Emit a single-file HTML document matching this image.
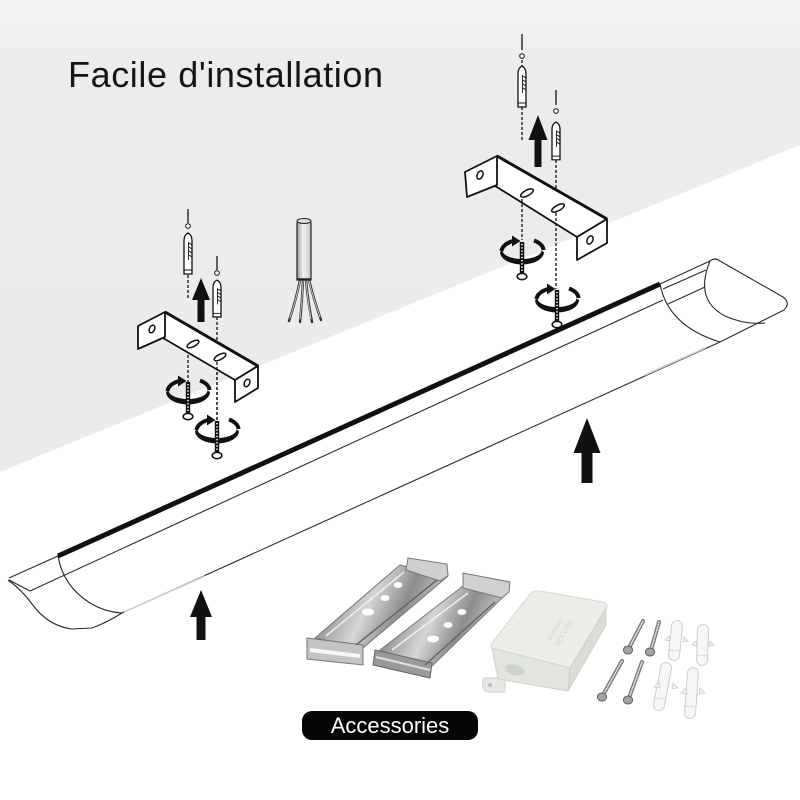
<!DOCTYPE html>
<html><head><meta charset="utf-8"><style>
html,body{margin:0;padding:0;background:#fff;}
svg{display:block;}
</style></head><body>
<svg width="800" height="800" viewBox="0 0 800 800" xmlns="http://www.w3.org/2000/svg">
<defs>
  <linearGradient id="wall" x1="0" y1="0" x2="0" y2="1">
    <stop offset="0" stop-color="#f3f3f3"/>
    <stop offset="0.15" stop-color="#ececec"/>
    <stop offset="1" stop-color="#ebebeb"/>
  </linearGradient>
  <linearGradient id="metal" x1="0" y1="0" x2="1" y2="0.3">
    <stop offset="0" stop-color="#e2e2e2"/>
    <stop offset="0.25" stop-color="#9a9a9a"/>
    <stop offset="0.5" stop-color="#d6d6d6"/>
    <stop offset="0.75" stop-color="#8c8c8c"/>
    <stop offset="1" stop-color="#cacaca"/>
  </linearGradient>
  <linearGradient id="cable" x1="0" y1="0" x2="1" y2="0">
    <stop offset="0" stop-color="#9a9a9a"/>
    <stop offset="0.45" stop-color="#f4f4f4"/>
    <stop offset="1" stop-color="#c4c4c4"/>
  </linearGradient>
  <g id="rot">
    <path d="M-22,-1 A22,12.5 0 0 0 22,-1 L19.5,-2.5 A19.5,8.5 0 0 1 -19.5,-2.5 Z" fill="#111"/>
    <path d="M-20.5,-2 A21,12 0 0 1 -9,-12" fill="none" stroke="#111" stroke-width="4"/>
    <polygon points="-10,-17.5 -1.5,-12 -10,-6.5" fill="#111"/>
    <path d="M12,-12.5 A21,12 0 0 1 21.5,-3" fill="none" stroke="#111" stroke-width="4"/>
    <rect x="-2.2" y="-11" width="4.4" height="32" fill="#111"/>
    <line x1="0" y1="-9" x2="0" y2="20" stroke="#fff" stroke-width="1.6" stroke-dasharray="1.3 1.9"/>
    <ellipse cx="0" cy="23.5" rx="4.8" ry="3.2" fill="#fff" stroke="#111" stroke-width="1.6"/>
  </g>
  <g id="anchor">
    <path d="M-4,40 L-4,7 Q-4,1 0,-1 Q4,1 4,7 L4,40 Z" fill="#fff" stroke="#111" stroke-width="1.3"/>
    <line x1="-4" y1="36" x2="4" y2="36" stroke="#111" stroke-width="1"/>
    <path d="M1,9 L4,11 M1,13 L4,15 M1,17 L4,19 M1,21 L4,23" stroke="#111" stroke-width="1"/>
    <line x1="0.5" y1="8" x2="0.5" y2="26" stroke="#111" stroke-width="0.9"/>
  </g>
</defs>

<rect width="800" height="800" fill="#fff"/>
<polygon points="0,0 800,0 800,145 0,472" fill="url(#wall)"/>

<text x="68" y="87" font-family="Liberation Sans, sans-serif" font-size="36" letter-spacing="0.6" fill="#151515">Facile d'installation</text>

<!-- Lamp -->
<g fill="none" stroke="#2a2a2a" stroke-width="1.1" stroke-linejoin="round">
  <line x1="9" y1="578" x2="58" y2="556"/>
  <line x1="9" y1="580" x2="30" y2="591"/>
  <path d="M8,580 Q22,590 32,604 Q48,626 72,629 L92,628 Q106,623 122,613"/>
  <path d="M58,556 Q63,586 90,603 Q105,612 122,613"/>
  <line x1="30" y1="591" x2="663" y2="300"/>
  <line x1="122" y1="613" x2="720" y2="342"/>
  <line x1="660" y1="284" x2="710" y2="261"/>
  <line x1="663" y1="289" x2="706" y2="270"/>
  <line x1="668" y1="304" x2="705" y2="287"/>
  <path d="M660,284 Q668,326 720,342"/>
  <path d="M710,261 Q694,300 725,316 Q745,325 765,323"/>
  <path d="M710,261 Q715,257 720,261 L783,297 Q791,303 784,310 L720,342"/>
</g>
<line x1="124" y1="612" x2="205" y2="576" stroke="#cfcfcf" stroke-width="1.6"/>
<line x1="645" y1="375" x2="705" y2="348" stroke="#d0d0d0" stroke-width="1.6"/>
<line x1="58" y1="556" x2="660" y2="284" stroke="#111" stroke-width="5"/>

<!-- Left bracket set -->
<g stroke="#111" stroke-width="1.3" fill="none">
  <line x1="188" y1="209" x2="188" y2="223"/>
  <line x1="217" y1="256" x2="217" y2="270"/>
  <line x1="188" y1="270" x2="188" y2="300" stroke-dasharray="3 2"/>
  <line x1="217" y1="317" x2="217" y2="430" stroke-dasharray="3 2"/>
  <line x1="188" y1="340" x2="188" y2="384" stroke-dasharray="3 2"/>
</g>
<circle cx="188" cy="226" r="2.3" fill="#fff" stroke="#111" stroke-width="1"/>
<circle cx="217" cy="273" r="2.3" fill="#fff" stroke="#111" stroke-width="1"/>
<use href="#anchor" x="188" y="234"/>
<g transform="translate(217,281) scale(1,0.9)"><use href="#anchor"/></g>
<polygon points="201,278 210,300 204.5,300 204.5,322 197.5,322 197.5,300 192,300" fill="#111"/>
<g stroke="#111" stroke-width="1.8" stroke-linejoin="round" fill="#fff">
  <polygon points="165,312 258,366 235,380 163,338"/>
  <polygon points="138,326 165,312 165,337 138,349"/>
  <polygon points="235,380 258,366 258,388 235,402"/>
</g>
<line x1="165" y1="312" x2="258" y2="366" stroke="#111" stroke-width="3"/>
<ellipse cx="152" cy="329" rx="2.6" ry="4" transform="rotate(25 152 329)" fill="#fff" stroke="#111" stroke-width="1.5"/>
<ellipse cx="247" cy="383" rx="2.6" ry="4" transform="rotate(25 247 383)" fill="#fff" stroke="#111" stroke-width="1.5"/>
<ellipse cx="193" cy="344" rx="6.5" ry="2.6" transform="rotate(-28 193 344)" fill="#fff" stroke="#111" stroke-width="1.5"/>
<ellipse cx="220" cy="357" rx="6.5" ry="2.6" transform="rotate(-28 220 357)" fill="#fff" stroke="#111" stroke-width="1.5"/>
<line x1="217" y1="362" x2="217" y2="425" stroke="#111" stroke-width="1.3" stroke-dasharray="3 2"/>
<use href="#rot" x="188" y="393"/>
<use href="#rot" x="217" y="432"/>

<!-- cable -->
<path d="M297,280 L297,223 Q304,215 311,223 L311,280 Z" fill="url(#cable)" stroke="#222" stroke-width="1.2"/>
<ellipse cx="304" cy="221" rx="7" ry="2.5" fill="#ddd" stroke="#222" stroke-width="1"/>
<g fill="none" stroke-linecap="round">
  <g stroke="#333" stroke-width="2.4">
    <path d="M300,280 Q296,300 289,321"/>
    <path d="M303,280 Q302,302 300,322"/>
    <path d="M306,280 Q308,302 312,322"/>
    <path d="M309,280 Q314,300 321,320"/>
  </g>
  <g stroke="#ddd" stroke-width="0.8">
    <path d="M300,281 Q296,300 290,318"/>
    <path d="M303,281 Q302,302 300,319"/>
    <path d="M306,281 Q308,302 311,319"/>
    <path d="M309,281 Q314,300 320,317"/>
  </g>
</g>
<line x1="297" y1="279" x2="311" y2="279" stroke="#222" stroke-width="1.5"/>

<!-- Right bracket set -->
<g stroke="#111" stroke-width="1.3" fill="none">
  <line x1="522" y1="34" x2="522" y2="50"/>
  <line x1="556" y1="90" x2="556" y2="105"/>
  <line x1="522" y1="60" x2="522" y2="66" stroke-dasharray="3 2"/>
  <line x1="522" y1="107" x2="522" y2="142" stroke-dasharray="3 2"/>
  <line x1="556" y1="160" x2="556" y2="190" stroke-dasharray="3 2"/>
</g>
<circle cx="522" cy="56" r="2.3" fill="#fff" stroke="#111" stroke-width="1"/>
<circle cx="556" cy="111" r="2.3" fill="#fff" stroke="#111" stroke-width="1"/>
<use href="#anchor" x="522" y="67"/>
<g transform="translate(556,123) scale(1,0.92)"><use href="#anchor"/></g>
<polygon points="538,115 547.5,140 541.5,140 541.5,167 534.5,167 534.5,140 528.5,140" fill="#111"/>
<g stroke="#111" stroke-width="1.8" stroke-linejoin="round" fill="#fff">
  <polygon points="497,156 607,219 577,237 492,184"/>
  <polygon points="465,172 497,156 497,185 467,197"/>
  <polygon points="577,237 607,219 607,243 577,260"/>
</g>
<line x1="497" y1="156" x2="607" y2="219" stroke="#111" stroke-width="3"/>
<ellipse cx="480" cy="175" rx="2.8" ry="4.3" transform="rotate(25 480 175)" fill="#fff" stroke="#111" stroke-width="1.5"/>
<ellipse cx="590" cy="240" rx="2.8" ry="4.3" transform="rotate(25 590 240)" fill="#fff" stroke="#111" stroke-width="1.5"/>
<ellipse cx="527" cy="193" rx="7" ry="2.8" transform="rotate(-28 527 193)" fill="#fff" stroke="#111" stroke-width="1.5"/>
<ellipse cx="558" cy="208" rx="7" ry="2.8" transform="rotate(-28 558 208)" fill="#fff" stroke="#111" stroke-width="1.5"/>
<g stroke="#111" stroke-width="1.3" stroke-dasharray="3 2">
  <line x1="522" y1="199" x2="522" y2="240"/>
  <line x1="556" y1="213" x2="556" y2="289"/>
</g>
<use href="#rot" x="522" y="253"/>
<use href="#rot" x="557" y="301"/>

<!-- big arrows -->
<polygon points="587,418 600.5,453 592.5,453 592.5,483 581.5,483 581.5,453 573.5,453" fill="#111"/>
<polygon points="201,590 212,617 205.5,617 205.5,640 196.5,640 196.5,617 190,617" fill="#111"/>

<!-- Accessories photo -->
<polygon points="400,565 447,577 363,648 315,638" fill="url(#metal)" stroke="#777" stroke-width="1"/>
<polygon points="408,558 447,564 448,576 440,581 406,570" fill="#cfcfcf" stroke="#777" stroke-width="1"/>
<polygon points="307,638 363,645 363,665 307,659" fill="#c4c4c4" stroke="#777" stroke-width="1"/>
<line x1="310" y1="650" x2="360" y2="656" stroke="#f6f6f6" stroke-width="4"/>
<line x1="404" y1="572" x2="326" y2="636" stroke="#f0f0f0" stroke-width="1.5"/>
<line x1="437" y1="580" x2="356" y2="645" stroke="#666" stroke-width="1.5"/>
<ellipse cx="398" cy="585" rx="4.5" ry="3" fill="#fff"/>
<ellipse cx="385" cy="598" rx="4.5" ry="3" fill="#fff"/>
<ellipse cx="368" cy="612" rx="6" ry="3.5" fill="#fff"/>

<polygon points="463,586 502,598 430,668 380,650" fill="url(#metal)" stroke="#777" stroke-width="1"/>
<polygon points="463,573 510,582 509,592 502,598 463,588" fill="#d0d0d0" stroke="#777" stroke-width="1"/>
<polygon points="375,650 432,663 430,678 373,665" fill="#9a9a9a" stroke="#666" stroke-width="1"/>
<line x1="376" y1="657" x2="430" y2="670" stroke="#e0e0e0" stroke-width="2"/>
<line x1="468" y1="593" x2="392" y2="650" stroke="#f0f0f0" stroke-width="1.5"/>
<line x1="495" y1="602" x2="425" y2="665" stroke="#666" stroke-width="1.5"/>
<ellipse cx="462" cy="612" rx="4.5" ry="3" fill="#fff"/>
<ellipse cx="448" cy="625" rx="4.5" ry="3" fill="#fff"/>
<ellipse cx="433" cy="639" rx="6" ry="3.5" fill="#fff"/>

<!-- junction box -->
<path d="M484,678 Q480,686 486,692 L505,692 L505,678 Z" fill="#e6e9e3" stroke="#cfd3cc" stroke-width="1"/>
<circle cx="490" cy="685" r="2" fill="#bbb"/>
<path d="M540,591 L603,602 Q609,604 606,610 L570,668 L495,650 Q489,648 492,643 L530,594 Q534,590 540,591 Z" fill="#eceee9" stroke="#d5d9d2" stroke-width="1"/>
<polygon points="492,648 570,668 568,691 498,679" fill="#e1e5de" stroke="#d0d4cd" stroke-width="1"/>
<polygon points="606,608 606,625 568,691 570,668" fill="#d9ddd5" stroke="#cdd1ca" stroke-width="1"/>
<ellipse cx="515" cy="670" rx="10" ry="5" transform="rotate(15 515 670)" fill="#ced3ca"/>
<g fill="#d0d5cd" font-family="Liberation Sans, sans-serif" font-size="7" transform="rotate(-58 560 630)">
  <text x="545" y="628">SUNDO</text>
  <text x="545" y="637">SECURE</text>
</g>

<!-- screws -->
<g stroke-linecap="round">
  <g stroke="#777" stroke-width="4">
    <line x1="643" y1="621" x2="629" y2="648"/>
    <line x1="659" y1="622" x2="651" y2="650"/>
    <line x1="622" y1="661" x2="603" y2="695"/>
    <line x1="642" y1="662" x2="629" y2="698"/>
  </g>
  <g stroke="#e6e6e6" stroke-width="1.5" stroke-dasharray="1 1.6">
    <line x1="643" y1="621" x2="629" y2="648"/>
    <line x1="659" y1="622" x2="651" y2="650"/>
    <line x1="622" y1="661" x2="603" y2="695"/>
    <line x1="642" y1="662" x2="629" y2="698"/>
  </g>
</g>
<g fill="#a3a3a3" stroke="#5c5c5c" stroke-width="1">
  <ellipse cx="628" cy="650" rx="4.6" ry="4"/>
  <ellipse cx="650" cy="652" rx="4.6" ry="4"/>
  <ellipse cx="602" cy="697" rx="4.6" ry="4"/>
  <ellipse cx="628" cy="700" rx="4.6" ry="4"/>
</g>
<!-- plugs -->
<g stroke-linecap="round">
  <g stroke="#cfcfcf" stroke-width="12">
    <line x1="677" y1="626" x2="674" y2="655"/>
    <line x1="703" y1="630" x2="702" y2="660"/>
    <line x1="666" y1="668" x2="659" y2="705"/>
    <line x1="693" y1="673" x2="690" y2="713"/>
  </g>
  <g stroke="#f6f6f6" stroke-width="10">
    <line x1="677" y1="626" x2="674" y2="655"/>
    <line x1="703" y1="630" x2="702" y2="660"/>
    <line x1="666" y1="668" x2="659" y2="705"/>
    <line x1="693" y1="673" x2="690" y2="713"/>
  </g>
</g>
<g fill="#f2f2f2" stroke="#cacaca" stroke-width="0.8">
  <polygon points="669,636 665,640 670,641"/><polygon points="684,637 688,641 683,642"/>
  <polygon points="696,641 692,645 697,646"/><polygon points="710,641 714,645 709,646"/>
  <polygon points="659,682 654,687 660,688"/><polygon points="673,683 678,688 672,689"/>
  <polygon points="686,688 681,693 687,694"/><polygon points="700,688 705,693 699,694"/>
</g>
<g fill="none" stroke="#d8d8d8" stroke-width="1">
  <line x1="668" y1="650" x2="680" y2="651"/>
  <line x1="696" y1="655" x2="708" y2="656"/>
  <line x1="653" y1="698" x2="665" y2="699"/>
  <line x1="684" y1="706" x2="696" y2="707"/>
</g>

<!-- Accessories label -->
<rect x="302" y="711" width="176" height="29" rx="10" fill="#050505"/>
<text x="390" y="733" text-anchor="middle" font-family="Liberation Sans, sans-serif" font-size="22" fill="#fff">Accessories</text>
</svg>
</body></html>
